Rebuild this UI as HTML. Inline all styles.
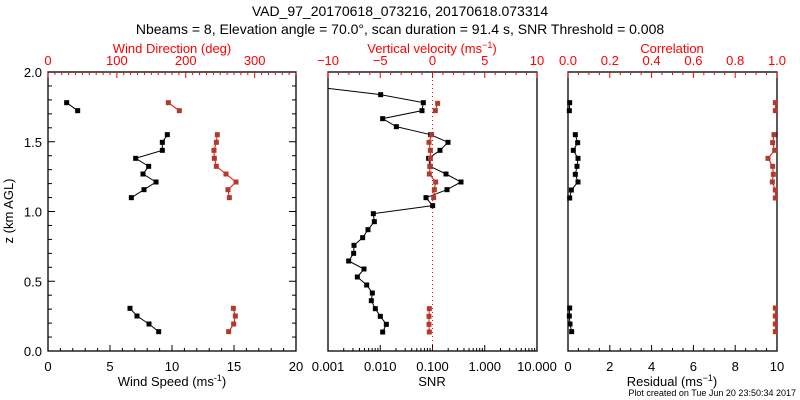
<!DOCTYPE html>
<html><head><meta charset="utf-8"><style>
html,body{margin:0;padding:0;background:#fff;}
svg{display:block;font-family:"Liberation Sans",sans-serif;}
</style></head><body>
<svg id="s" width="800" height="400" xmlns="http://www.w3.org/2000/svg"></svg>
<script>
const s=document.getElementById('s');let h='';
const Y0=351,Y1=72;const yz=z=>Y0-(Y0-Y1)*z/2;
function t(x,y,str,opt){opt=opt||{};h+=`<text x="${x}" y="${y}" font-size="${opt.fs||13}" fill="${opt.c||'#000'}" text-anchor="${opt.a||'middle'}" ${opt.tr?'transform="'+opt.tr+'"':''}>${str}</text>`;}
function l(x1,y1,x2,y2,c,w,d){h+=`<line x1="${x1}" y1="${y1}" x2="${x2}" y2="${y2}" stroke="${c||'#000'}" stroke-width="${w||1}" ${d?'stroke-dasharray="'+d+'"':''}/>`;}
function box(x0,x1){h+=`<rect x="${x0}" y="${Y1}" width="${x1-x0}" height="${Y0-Y1}" fill="none" stroke="#000" stroke-width="1.3"/>`;}
function linTicks(x0,x1,min,max,maj,mn,top,col,fmt){
 const f=v=>x0+(x1-x0)*(v-min)/(max-min);
 for(let v=min;v<=max+1e-9;v+=mn){const x=f(v);const isM=Math.abs(Math.round((v-min)/maj)*maj-(v-min))<1e-6;const L=isM?6:3;
  if(top)l(x,Y1,x,Y1+L,col);else l(x,Y0,x,Y0-L,col);}
 for(let v=min;v<=max+1e-9;v+=maj){const x=f(v);t(x,top?Y1-7:Y0+20,fmt(v),{c:col});}
}
function series(pts,col,lc){
 for(const seg of pts){h+=`<polyline points="${seg.map(p=>p[0]+','+p[1]).join(' ')}" fill="none" stroke="${lc}" stroke-width="1"/>`;
  for(const p of seg){if(p[2]==='n')continue;h+=`<rect x="${p[0]-2.5}" y="${p[1]-2.5}" width="5" height="5" fill="${col}"/>`;}}
}
const R='#ff0000',M='#b03a2e';
t(400,16,'VAD_97_20170618_073216, 20170618.073314',{fs:14});
t(400,34,'Nbeams = 8, Elevation angle = 70.0°, scan duration = 91.4 s, SNR Threshold = 0.008',{fs:14});
// Panel 1
box(48,296);
linTicks(48,296,0,360,100,10,true,R,v=>v);
linTicks(48,296,0,20,5,1,false,'#000',v=>v);
for(let z=0;z<=2.0001;z+=0.1){const y=yz(z);const m=Math.abs(z*2-Math.round(z*2))<1e-6;const L=m?7:4;l(48,y,48+L,y);l(296,y,296-L,y);}
for(let z=0;z<=2.0001;z+=0.5){t(42,yz(z)+5,z.toFixed(1),{a:'end'});}
t(172,53,'Wind Direction (deg)',{c:R});
t(172,386,'Wind Speed (ms<tspan dy="-5" font-size="9">-1</tspan><tspan dy="5">)</tspan>');
t(13,211,'z (km AGL)',{tr:'rotate(-90 13 211)'});
const P1=a=>a.map(([x,y])=>[x/3,60+y/3]);
series([P1([[200,128],[233,152]]),P1([[502,224],[487,247],[487,271],[407,295],[446,319],[429,342],[468,366],[432,389],[394,413]]),P1([[390,745],[411,768],[447,792],[476,815]])],'#000','#000');
series([P1([[505,128],[538,152]]),P1([[652,224],[649,247],[642,271],[643,295],[649,319],[678,342],[708,366],[684,389],[688,413]]),P1([[700,745],[706,768],[701,792],[686,815]])],M,R);
// Panel 2
box(328,537);
linTicks(328,537,-10,10,5,1,true,R,v=>v==0?'0':(v<0?'−'+(-v):v));
for(let d=0;d<4;d++)for(let k=1;k<10;k++){const x=328+52.25*(d+Math.log10(k));l(x,Y0,x,Y0-(k==1?6:3));}
l(537,Y0,537,Y0-6);
['0.001','0.010','0.100','1.000','10.000'].forEach((s_,i)=>t(328+52.25*i,Y0+20,s_));
l(432.5,Y1,432.5,Y0,R,1,'1,3');
t(432,53,'Vertical velocity (ms<tspan dy="-5" font-size="9">−1</tspan><tspan dy="5">)</tspan>',{c:R});
t(432,386,'SNR');
const P2=a=>a.map(([x,y])=>[310+x/3,60+y/3]);
series([[[328,60+85/3,'n']].concat(P2([[212,104],[340,128],[336,152],[218,176],[259,200],[362,224],[414,247],[390,271],[356,295],[360,319],[408,342],[453,366],[411,389],[348,413],[368,437],[190,461],[193,485],[174,509],[158,533],[132,556],[131,580],[116,603],[162,627],[142,651],[170,675],[187,699],[184,722],[196,746],[211,769],[229,793],[218,816]]))],'#000','#000');
series([P2([[383,130],[376,152]]),P2([[365,224],[357,247],[361,271],[361,295],[361,319],[358,342],[377,366],[373,389],[371,413]]),P2([[358,746],[357,769],[357,793],[358,816]])],M,R);
// Panel 3
box(568,777);
linTicks(568,777,0,1,0.2,0.05,true,R,v=>v.toFixed(1));
linTicks(568,777,0,10,2,0.5,false,'#000',v=>Math.round(v));
t(672,53,'Correlation',{c:R});
t(672,386,'Residual (ms<tspan dy="-5" font-size="9">−1</tspan><tspan dy="5">)</tspan>');
const P3=a=>a.map(([x,y])=>[540+x/3,40+y/3]);
series([P3([[89,188],[88,212]]),P3([[106,284],[113,308],[100,331],[114,355],[111,379],[106,403],[114,426],[94,450],[89,474]]),P3([[89,804],[88,828],[90,852],[95,875]])],'#000','#000');
series([P3([[706,188],[706,212]]),P3([[702,284],[698,308],[704,331],[684,355],[698,379],[700,403],[697,426],[706,450],[706,474]]),P3([[706,804],[706,828],[706,852],[706,875]])],M,R);
t(796,396,'Plot created on Tue Jun 20 23:50:34 2017',{fs:9,a:'end'});
s.innerHTML=h;
</script>
</body></html>
